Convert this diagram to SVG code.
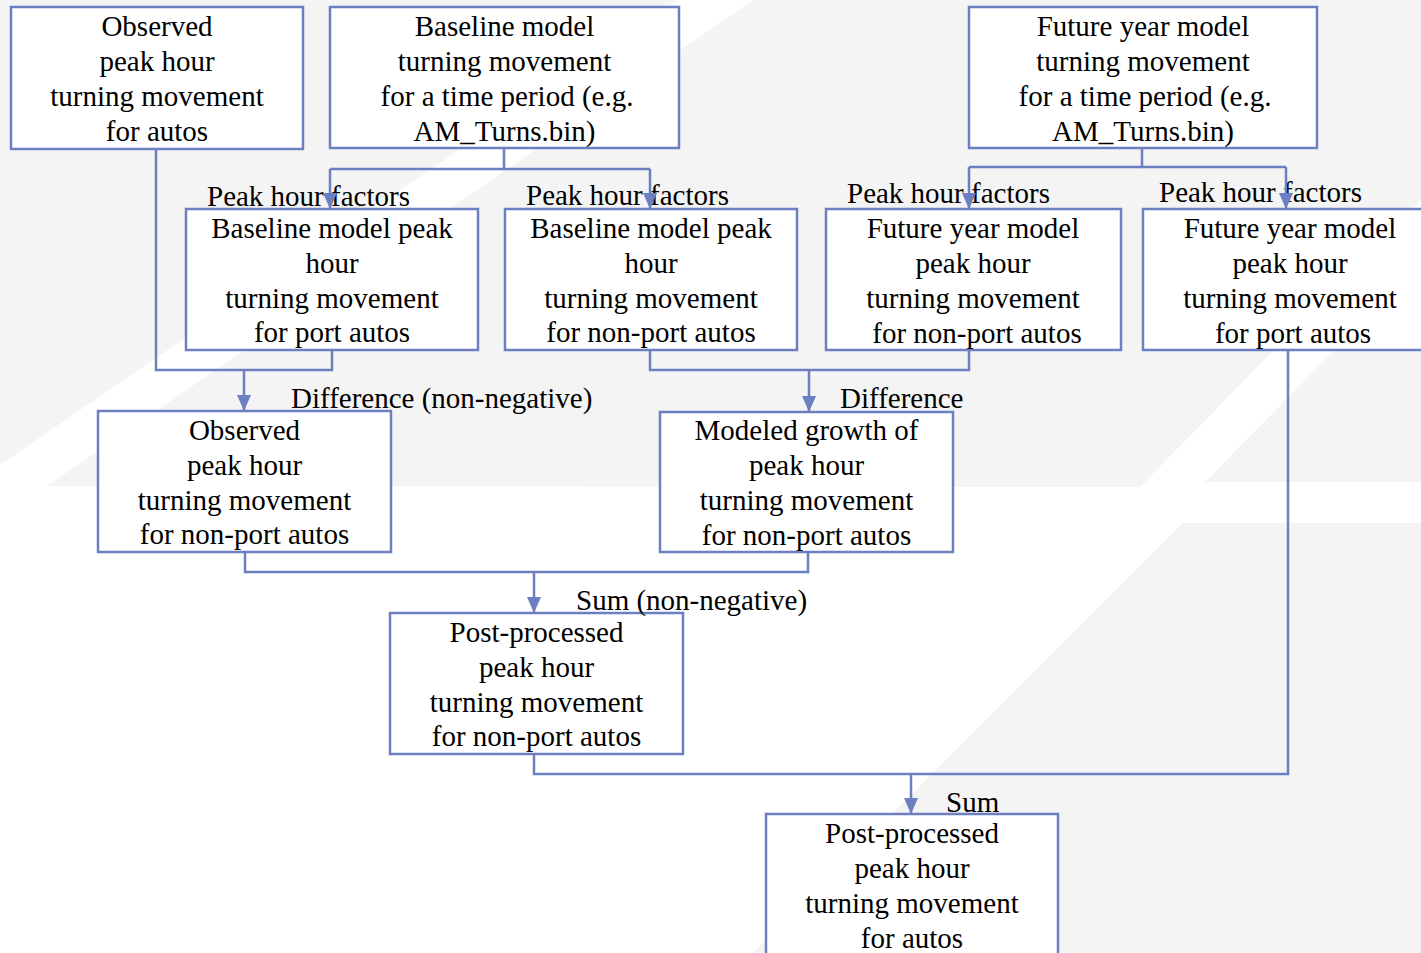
<svg xmlns="http://www.w3.org/2000/svg" width="1421" height="953" viewBox="0 0 1421 953">
<style>
.bg{fill:#f4f4f4;stroke:none}
.box{fill:#ffffff;stroke:#6b7fc1;stroke-width:2.5}
.t{font-family:"Liberation Serif","Times New Roman",serif;font-size:29px;fill:#000;text-anchor:middle}
.lbl{font-family:"Liberation Serif","Times New Roman",serif;font-size:29px;fill:#000}
.c{fill:none;stroke:#6b7fc1;stroke-width:2.5}
.a{fill:none;stroke:#6b7fc1;stroke-width:2.5;marker-end:url(#arr)}
</style>
<defs>
<marker id="arr" viewBox="0 0 16 14" refX="16" refY="7" markerWidth="16" markerHeight="14" markerUnits="userSpaceOnUse" orient="auto">
<path d="M0,0 L16,7 L0,14 Z" fill="#6b7fc1"/>
</marker>
</defs>
<rect width="1421" height="953" fill="#ffffff"/>
<g id="background">
<polygon class="bg" points="0,0 677,0 0,465"/>
<polygon class="bg" points="753,0 1421,0 1421,200 1140,487 47,486"/>
<polygon class="bg" points="1421,262 1421,482 1205,482"/>
<polygon class="bg" points="1183,523 1421,523 1421,953 753,953"/>
</g>
<g id="n1">
<rect class="box" x="11" y="7" width="292" height="142"/>
<text class="t" x="157" y="36">Observed</text>
<text class="t" x="157" y="71">peak hour</text>
<text class="t" x="157" y="106">turning movement</text>
<text class="t" x="157" y="141">for autos</text>
</g>
<g id="n2">
<rect class="box" x="330" y="7" width="349" height="141"/>
<text class="t" x="504.5" y="36">Baseline model</text>
<text class="t" x="504.5" y="71">turning movement</text>
<text class="t" x="507" y="106">for a time period (e.g.</text>
<text class="t" x="504.5" y="141">AM_Turns.bin)</text>
</g>
<g id="n3">
<rect class="box" x="969" y="7" width="348" height="141"/>
<text class="t" x="1143" y="36">Future year model</text>
<text class="t" x="1143" y="71">turning movement</text>
<text class="t" x="1145" y="106">for a time period (e.g.</text>
<text class="t" x="1143" y="141">AM_Turns.bin)</text>
</g>
<g id="n4">
<rect class="box" x="186" y="209" width="292" height="141"/>
<text class="t" x="332" y="238">Baseline model peak</text>
<text class="t" x="332" y="273">hour</text>
<text class="t" x="332" y="308">turning movement</text>
<text class="t" x="332" y="342">for port autos</text>
</g>
<g id="n5">
<rect class="box" x="505" y="209" width="292" height="141"/>
<text class="t" x="651" y="238">Baseline model peak</text>
<text class="t" x="651" y="273">hour</text>
<text class="t" x="651" y="308">turning movement</text>
<text class="t" x="651" y="342">for non-port autos</text>
</g>
<g id="n6">
<rect class="box" x="826" y="209" width="295" height="141"/>
<text class="t" x="973" y="238">Future year model</text>
<text class="t" x="973" y="273">peak hour</text>
<text class="t" x="973" y="308">turning movement</text>
<text class="t" x="977" y="343">for non-port autos</text>
</g>
<g id="n7">
<rect class="box" x="1143" y="209" width="294" height="141"/>
<text class="t" x="1290" y="238">Future year model</text>
<text class="t" x="1290" y="273">peak hour</text>
<text class="t" x="1290" y="308">turning movement</text>
<text class="t" x="1293" y="343">for port autos</text>
</g>
<g id="n8">
<rect class="box" x="98" y="411" width="293" height="141"/>
<text class="t" x="244.5" y="440">Observed</text>
<text class="t" x="244.5" y="475">peak hour</text>
<text class="t" x="244.5" y="510">turning movement</text>
<text class="t" x="244.5" y="544">for non-port autos</text>
</g>
<g id="n9">
<rect class="box" x="660" y="412" width="293" height="140"/>
<text class="t" x="806.5" y="440">Modeled growth of</text>
<text class="t" x="806.5" y="475">peak hour</text>
<text class="t" x="806.5" y="510">turning movement</text>
<text class="t" x="806.5" y="545">for non-port autos</text>
</g>
<g id="n10">
<rect class="box" x="390" y="613" width="293" height="141"/>
<text class="t" x="536.5" y="642">Post-processed</text>
<text class="t" x="536.5" y="677">peak hour</text>
<text class="t" x="536.5" y="712">turning movement</text>
<text class="t" x="536.5" y="746">for non-port autos</text>
</g>
<g id="n11">
<rect class="box" x="766" y="814" width="292" height="160"/>
<text class="t" x="912" y="843">Post-processed</text>
<text class="t" x="912" y="878">peak hour</text>
<text class="t" x="912" y="913">turning movement</text>
<text class="t" x="912" y="948">for autos</text>
</g>
<g id="edge-labels">
<text class="lbl" x="207" y="206">Peak hour factors</text>
<text class="lbl" x="526" y="205">Peak hour factors</text>
<text class="lbl" x="847" y="203">Peak hour factors</text>
<text class="lbl" x="1159" y="202">Peak hour factors</text>
<text class="lbl" x="291" y="408">Difference (non-negative)</text>
<text class="lbl" x="840" y="408">Difference</text>
<text class="lbl" x="576" y="610">Sum (non-negative)</text>
<text class="lbl" x="946" y="812">Sum</text>
</g>
<g id="connectors">
<path class="c" d="M156,149 V370 H332 V350"/>
<path class="a" d="M244,370 V411"/>
<path class="c" d="M504,148 V169 H650"/>
<path class="c" d="M504,169 H330"/>
<path class="a" d="M330,169 V209"/>
<path class="a" d="M650,169 V209"/>
<path class="c" d="M1142,148 V167 H1286"/>
<path class="c" d="M1142,167 H969"/>
<path class="a" d="M969,167 V209"/>
<path class="a" d="M1286,167 V209"/>
<path class="c" d="M650,350 V370 H969 V350"/>
<path class="a" d="M809,370 V412"/>
<path class="c" d="M245,552 V572 H808 V552"/>
<path class="a" d="M534,572 V613"/>
<path class="c" d="M534,754 V774 H1288 V350"/>
<path class="a" d="M911,774 V814"/>
</g>
</svg>
